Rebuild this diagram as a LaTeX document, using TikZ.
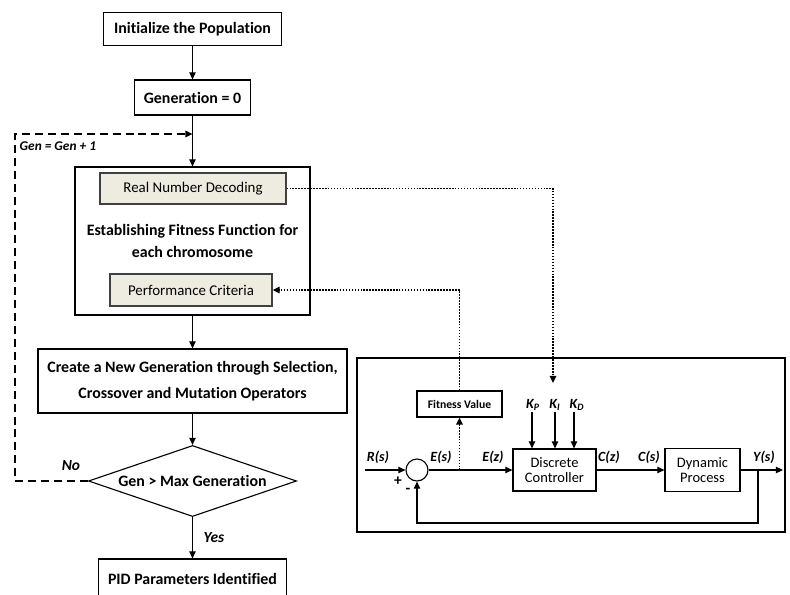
\documentclass[tikz,border=0pt]{standalone}
\usepackage{fontspec}
\setmainfont{Carlito}[Ligatures=NoCommon]
\usetikzlibrary{shapes.geometric,arrows.meta}
\definecolor{beige}{HTML}{EEECE1}
\begin{document}
\begin{tikzpicture}[x=0.025cm, y=-0.025cm,
  box/.style={draw, line width=0.8pt, align=center, inner sep=2pt, font=\fontsize{11.3}{15}\selectfont\bfseries},
  sub/.style={box, fill=beige, draw=black!75, font=\fontsize{10.6}{13}\selectfont},
  blk/.style={draw, line width=0.8pt, align=center, inner sep=1pt, font=\fontsize{10.3}{10.7}\selectfont},
  sig/.style={font=\fontsize{10}{12}\selectfont\bfseries\itshape, inner sep=1pt},
  arr/.style={line width=0.8pt, -{Triangle[length=5pt,width=4.5pt]}},
  dotline/.style={line width=1.3pt, dash pattern=on 1.1pt off 1pt},
  dotarr/.style={dotline, -{Triangle[length=5pt,width=4.5pt]}},
  dashline/.style={line width=1.4pt, dash pattern=on 5.7pt off 3.5pt, -{Triangle[length=5pt,width=4.5pt]}}
]
  \useasboundingbox (0,0) rectangle (790,594);

  % genetic algorithm flow
  \node[box, minimum width=4.45cm, minimum height=0.825cm] (init) at (192.5,29) {Initialize the Population};
  \node[box, minimum width=2.9cm, minimum height=0.875cm] (gen0) at (192.5,97.5) {Generation = 0};
  \node[box, minimum width=5.875cm, minimum height=3.7cm] (fit) at (192.5,241) {Establishing Fitness Function for\\each chromosome};
  \node[sub, minimum width=4.65cm, minimum height=0.775cm] (rnd) at (193,188.5) {Real Number Decoding};
  \node[sub, minimum width=4.05cm, minimum height=0.8cm] (perf) at (191,290) {Performance Criteria};
  \node[box, minimum width=7.725cm, minimum height=1.6cm, font=\fontsize{11.3}{18.5}\selectfont\bfseries] (create) at (192.5,381) {Create a New Generation through Selection,\\Crossover and Mutation Operators};
  \node[box, diamond, aspect=2.48, inner sep=0pt, minimum width=5.2cm] (cond) at (192.5,481) {Gen > Max Generation};
  \node[box, minimum width=4.7cm, minimum height=1cm] (pid) at (192.5,579) {PID Parameters Identified};

  \draw[arr] (init) -- (gen0);
  \draw[arr] (gen0) -- (fit);
  \draw[arr] (fit) -- (create);
  \draw[arr] (create) -- (cond);
  \draw[arr] (cond) -- (pid);

  % loop back
  \coordinate (loopc) at (15,134);
  \coordinate (merge) at (192.5,134);
  \draw[dashline] (cond.west) -| (loopc) -- (merge);
  \node[sig, font=\fontsize{9.5}{11}\selectfont\bfseries\itshape, anchor=west] (inc) at (18,146) {Gen = Gen + 1};
  \node[sig, font=\fontsize{11}{13}\selectfont\bfseries\itshape] (no) at (71,466) {No};
  \node[sig, font=\fontsize{11}{13}\selectfont\bfseries\itshape] (yes) at (214,538) {Yes};

  % closed loop
  \draw[line width=1.4pt] (357,358) rectangle (785,532);
  \node[blk, font=\fontsize{8.3}{10}\selectfont\bfseries, minimum width=2.125cm, minimum height=0.65cm] (fv) at (459.5,404) {Fitness Value};
  \node[draw, circle, line width=0.8pt, minimum size=0.55cm, inner sep=0pt] (sum) at (417,470) {};
  \node[blk, minimum width=2.075cm, minimum height=1.05cm] (ctrl) at (554.5,470) {Discrete\\Controller};
  \node[blk, minimum width=1.875cm, minimum height=1.075cm] (dyn) at (702.5,470) {Dynamic\\Process};

  \coordinate (rin) at (365,470);
  \coordinate (yout) at (783,470);
  \coordinate (fb) at (758,470);
  \coordinate (fbb) at (758,523);
  \coordinate (tap) at (459.5,470);
  \coordinate (kset) at (553,383);

  \draw[arr] (rin) -- (sum.west);
  \draw[arr] (sum.east) -- (ctrl.west);
  \draw[arr] (ctrl.east) -- (dyn.west);
  \draw[arr] (dyn.east) -- (yout);
  \draw[arr] (fb) -- (fbb) -| (sum.south);

  \node[sig] (rs) at (378,457) {R(s)};
  \node[sig] (es) at (441,457) {E(s)};
  \node[sig] (ez) at (493,457) {E(z)};
  \node[sig] (cz) at (609,457) {C(z)};
  \node[sig] (cs) at (649,457) {C(s)};
  \node[sig] (ys) at (764,457) {Y(s)};
  \node[sig, font=\fontsize{11}{12}\selectfont\bfseries] (plus) at (398,481) {+};
  \node[sig, font=\fontsize{11}{12}\selectfont\bfseries] (minus) at (408,491) {-};

  % gains
  \node[sig] (kp) at (533,405) {\textit{K}\textsubscript{\textit{P}}};
  \node[sig] (ki) at (555,405) {\textit{K}\textsubscript{\textit{I}}};
  \node[sig] (kd) at (577,405) {\textit{K}\textsubscript{\textit{D}}};
  \draw[arr] (kp.south -| 532,0) -- (532,0 |- ctrl.north);
  \draw[arr] (ki.south -| 555,0) -- (555,0 |- ctrl.north);
  \draw[arr] (kd.south -| 574,0) -- (574,0 |- ctrl.north);

  % data exchange
  \draw[dotarr] (rnd.east) -| (kset);
  \draw[dotarr] (fv.north) |- (perf.east);
  \draw[dotarr] (tap) -- (fv.south);
\end{tikzpicture}
\end{document}
